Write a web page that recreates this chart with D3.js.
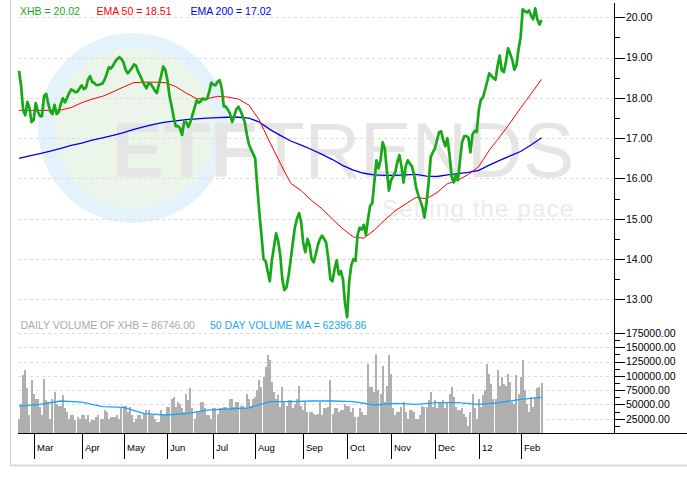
<!DOCTYPE html>
<html>
<head>
<meta charset="utf-8">
<script src="https://cdn.jsdelivr.net/npm/d3@7"></script>
<style>
    html, body { margin: 0; padding: 0; background: #fff; }
    svg { display: block; font-family: "Liberation Sans", Arial, sans-serif; }
</style>
</head>
<body>
<svg id="chart" width="687" height="477"></svg>
<script>
// XHB daily close, trading day 0 .. 250
var priceClose = [
    18.67, 18.30, 17.69, 17.57, 17.90, 17.75, 17.40, 17.45, 17.87, 17.66,
    17.55, 17.55, 18.05, 18.10, 17.85, 17.66, 17.60, 17.83, 17.60, 17.65,
    17.85, 17.99, 17.89, 18.00, 18.12, 18.21, 18.18, 18.14, 18.16, 18.24,
    18.31, 18.22, 18.25, 18.45, 18.54, 18.40, 18.37, 18.32, 18.32, 18.34,
    18.36, 18.46, 18.60, 18.76, 18.73, 18.80, 18.90, 18.96, 19.01, 18.97,
    18.88, 18.70, 18.61, 18.67, 18.74, 18.83, 18.80, 18.65, 18.55, 18.43,
    18.32, 18.24, 18.36, 18.35, 18.27, 18.18, 18.12, 18.35, 18.55, 18.78,
    18.70, 18.45, 18.05, 17.80, 17.52, 17.30, 17.30, 17.25, 17.08, 17.40,
    17.40, 17.28, 17.40, 17.58, 17.75, 17.94, 17.88, 17.92, 17.99, 17.96,
    17.98, 18.15, 18.38, 18.33, 18.31, 18.40, 18.44, 18.24, 17.79, 17.78,
    17.70, 17.60, 17.40, 17.55, 17.72, 17.78, 17.68, 17.55, 17.40, 17.10,
    16.85, 16.72, 16.62, 16.50, 15.80, 15.15, 14.60, 14.00, 13.95, 13.70,
    13.45, 13.97, 14.30, 14.64, 14.45, 14.10, 13.50, 13.23, 13.30, 13.60,
    13.98, 14.40, 14.78, 15.00, 15.14, 14.92, 14.40, 14.17, 14.50, 14.35,
    14.00, 13.92, 14.12, 14.35, 14.50, 14.58, 14.50, 14.40, 14.00, 13.50,
    13.45, 13.75, 13.97, 13.62, 13.70, 13.50, 12.90, 12.56, 13.45, 13.85,
    14.00, 13.95, 14.60, 14.78, 14.73, 14.85, 14.60, 15.00, 15.32, 15.38,
    15.90, 16.45, 16.25, 16.45, 16.90, 16.75, 16.20, 15.70, 15.96, 16.05,
    16.15, 16.40, 16.58, 16.30, 15.90, 16.30, 16.45, 16.37, 16.30, 16.10,
    15.78, 15.60, 15.45, 15.29, 15.03, 15.40, 15.90, 16.53, 16.65, 16.75,
    16.95, 17.15, 17.17, 16.95, 16.80, 17.00, 16.58, 16.05, 15.90, 16.10,
    15.96, 16.45, 16.90, 17.05, 17.05, 17.02, 16.65, 17.10, 17.18, 17.15,
    17.70, 17.96, 18.01, 18.20, 18.40, 18.61, 18.55, 18.49, 18.45, 18.80,
    19.05, 18.68, 18.64, 18.90, 19.23, 19.10, 18.95, 18.70, 18.81, 19.20,
    19.50, 20.20, 20.15, 20.12, 20.17, 20.05, 19.95, 20.22, 19.95, 19.82,
    19.93
]
// moving averages, one value every 5 trading days
var ema50 = [
    17.69, 17.69, 17.69, 17.69, 17.70, 17.76, 17.88, 17.97, 18.04, 18.15,
    18.27, 18.38, 18.39, 18.39, 18.38, 18.28, 18.12, 17.98, 17.98, 18.04,
    18.02, 17.97, 17.82, 17.45, 16.90, 16.38, 15.88, 15.70, 15.45, 15.25,
    14.99, 14.75, 14.55, 14.52, 14.72, 14.97, 15.20, 15.37, 15.53, 15.50,
    15.65, 15.87, 15.96, 16.10, 16.30, 16.70, 17.03, 17.38, 17.75, 18.10,
    18.46
]
var ema200 = [
    16.50, 16.56, 16.62, 16.68, 16.75, 16.82, 16.88, 16.95, 17.01, 17.07,
    17.14, 17.22, 17.29, 17.35, 17.40, 17.43, 17.46, 17.48, 17.50, 17.51,
    17.52, 17.52, 17.50, 17.40, 17.22, 17.07, 16.93, 16.83, 16.72, 16.60,
    16.47, 16.32, 16.21, 16.13, 16.09, 16.08, 16.08, 16.09, 16.10, 16.06,
    16.05, 16.09, 16.12, 16.15, 16.20, 16.33, 16.45, 16.56, 16.67, 16.83,
    17.01
]
// daily volume, thousands of shares
var volumeK = [
    25, 51, 101, 110, 78, 31, 92, 69, 60, 60,
    45, 31, 95, 57, 54, 25, 60, 72, 51, 48,
    48, 66, 43, 37, 25, 31, 31, 22, 28, 25,
    31, 31, 25, 31, 19, 22, 22, 28, 31, 25,
    25, 40, 37, 25, 28, 28, 28, 31, 25, 43,
    48, 48, 37, 45, 31, 19, 25, 31, 31, 25,
    34, 40, 40, 31, 31, 25, 19, 19, 40, 31,
    31, 45, 45, 60, 63, 45, 54, 51, 43, 37,
    69, 57, 78, 43, 25, 37, 37, 54, 54, 43,
    31, 31, 25, 43, 43, 34, 43, 43, 45, 45,
    40, 60, 60, 45, 54, 54, 48, 48, 43, 69,
    60, 48, 60, 63, 75, 92, 80, 98, 115, 136,
    127, 89, 72, 60, 66, 45, 80, 54, 48, 57,
    57, 43, 51, 60, 83, 48, 40, 54, 37, 37,
    37, 34, 31, 34, 54, 31, 43, 43, 45, 92,
    34, 43, 43, 37, 40, 40, 51, 48, 48, 37,
    43, 28, 28, 43, 37, 31, 31, 121, 80, 80,
    72, 139, 75, 69, 118, 54, 83, 136, 104, 43,
    31, 37, 37, 45, 54, 37, 25, 40, 40, 37,
    25, 25, 31, 48, 45, 45, 57, 72, 45, 57,
    43, 54, 54, 57, 43, 54, 69, 80, 63, 45,
    40, 40, 43, 34, 28, 13, 37, 69, 43, 25,
    60, 45, 66, 75, 121, 104, 86, 60, 60, 110,
    83, 98, 86, 83, 104, 89, 54, 51, 101, 69,
    98, 127, 75, 51, 37, 63, 45, 63, 78, 80, 87
]
// 50 day volume MA, thousands, every 10 trading days
var volMaK = [
    47, 50, 56, 54, 46, 45, 34, 31.5, 34, 40,
    42, 44, 55, 55, 56, 56, 55, 49, 52, 50,
    53, 53, 50, 53, 59, 62.4
]
var monthStart = [7, 30, 50, 71, 93, 113, 136, 157, 178, 199, 220, 240]
var monthLabels = ["Mar", "Apr", "May", "Jun", "Jul", "Aug", "Sep", "Oct", "Nov", "Dec", "12", "Feb"]
var priceTicks = [13, 14, 15, 16, 17, 18, 19, 20]
var volumeTicks = [25000, 50000, 75000, 100000, 125000, 150000, 175000]
var priceLegend = ["XHB = 20.02", "EMA 50 = 18.51", "EMA 200 = 17.02"]
var volumeLegend = ["DAILY VOLUME OF XHB = 86746.00", "50 DAY VOLUME MA = 62396.86"]

var svg = d3.select("#chart")
var axisX = 614, axisY = 433, plotLeft = 18

var x = d3.scaleLinear().domain([0, 250]).range([19, 541.5])
var yP = d3.scaleLinear().domain([13, 20]).range([299.4, 17.3])
var yV = d3.scaleLinear().domain([0, 175000]).range([axisY, 333])

// watermark
var wm = svg.append("g")
wm.append("circle").attr("cx", 133).attr("cy", 128).attr("r", 95).attr("fill", "#e4f2fb")
wm.append("circle").attr("cx", 134).attr("cy", 128).attr("r", 80).attr("fill", "#ebf5e9")
var wt = wm.append("text").attr("x", 112).attr("y", 177)
    .attr("font-size", 77).attr("fill", "#e5e5e5")
wt.append("tspan").attr("font-weight", "bold").text("ETF")
wt.append("tspan").text("TRENDS")
wm.append("text").attr("x", 382).attr("y", 217).attr("font-size", 24)
    .attr("fill", "#ebebeb").attr("textLength", 191).text("Setting the pace")

// frame
svg.append("line").attr("x1", 10.5).attr("x2", 10.5).attr("y1", 0).attr("y2", 466)
    .attr("stroke", "#d4d4d4")
svg.append("line").attr("x1", 10).attr("x2", 687).attr("y1", 465.5).attr("y2", 465.5)
    .attr("stroke", "#dcdcdc").attr("stroke-width", 2)

// grid
var grid = svg.append("g").attr("stroke", "#dcdcdc").attr("stroke-dasharray", "3,3")
grid.selectAll(".gp").data(priceTicks).enter().append("line")
    .attr("x1", plotLeft).attr("x2", axisX)
    .attr("y1", function (d) { return Math.round(yP(d)) + 0.5 })
    .attr("y2", function (d) { return Math.round(yP(d)) + 0.5 })
grid.selectAll(".gv").data(volumeTicks).enter().append("line")
    .attr("x1", plotLeft).attr("x2", axisX)
    .attr("y1", function (d) { return Math.round(yV(d)) + 0.5 })
    .attr("y2", function (d) { return Math.round(yV(d)) + 0.5 })

// volume bars
svg.append("g").selectAll("rect").data(volumeK).enter().append("rect")
    .attr("x", function (d, i) { return Math.round(x(i)) - 1 })
    .attr("width", 2)
    .attr("y", function (d) { return Math.round(yV(d * 1000)) })
    .attr("height", function (d) { return axisY - Math.round(yV(d * 1000)) })
    .attr("fill", "#b0b0b0")
    .attr("shape-rendering", "crispEdges")

svg.append("path").datum(volMaK)
    .attr("d", d3.line().x(function (d, i) { return x(i * 10) }).y(function (d) { return yV(d * 1000) }))
    .attr("fill", "none").attr("stroke", "#1aa6f2").attr("stroke-width", 1.3)

// price lines
var emaLine = d3.line().x(function (d, i) { return x(i * 5) }).y(function (d) { return yP(d) })
svg.append("path").datum(ema200).attr("d", emaLine)
    .attr("fill", "none").attr("stroke", "#0000ee").attr("stroke-width", 1.3)
svg.append("path").datum(ema50).attr("d", emaLine)
    .attr("fill", "none").attr("stroke", "#ff0000").attr("stroke-width", 1)
svg.append("path").datum(priceClose)
    .attr("d", d3.line().x(function (d, i) { return x(i) }).y(function (d) { return yP(d) }))
    .attr("fill", "none").attr("stroke", "#17a817").attr("stroke-width", 2.7)
    .attr("stroke-linejoin", "round")

// axes
var ax = svg.append("g").attr("stroke", "#000").attr("shape-rendering", "crispEdges")
ax.append("line").attr("x1", axisX + 0.5).attr("x2", axisX + 0.5).attr("y1", 3).attr("y2", axisY)
ax.append("line").attr("x1", plotLeft).attr("x2", 687).attr("y1", axisY + 0.5).attr("y2", axisY + 0.5)

var minorP = d3.range(13.5, 20, 1)
ax.selectAll(".mp").data(minorP).enter().append("line")
    .attr("x1", axisX).attr("x2", axisX + 6)
    .attr("y1", function (d) { return Math.round(yP(d)) + 0.5 })
    .attr("y2", function (d) { return Math.round(yP(d)) + 0.5 })
ax.selectAll(".tp").data(priceTicks).enter().append("line")
    .attr("x1", axisX).attr("x2", axisX + 11)
    .attr("y1", function (d) { return Math.round(yP(d)) + 0.5 })
    .attr("y2", function (d) { return Math.round(yP(d)) + 0.5 })
ax.selectAll(".tv").data(volumeTicks).enter().append("line")
    .attr("x1", axisX).attr("x2", axisX + 11)
    .attr("y1", function (d) { return Math.round(yV(d)) + 0.5 })
    .attr("y2", function (d) { return Math.round(yV(d)) + 0.5 })
ax.selectAll(".mv").data(volumeTicks).enter().append("line")
    .attr("x1", axisX).attr("x2", axisX + 6)
    .attr("y1", function (d) { return Math.round(yV(d - 12500)) + 0.5 })
    .attr("y2", function (d) { return Math.round(yV(d - 12500)) + 0.5 })
ax.selectAll(".tm").data(monthStart).enter().append("line")
    .attr("x1", function (d) { return Math.round(x(d)) + 0.5 })
    .attr("x2", function (d) { return Math.round(x(d)) + 0.5 })
    .attr("y1", axisY).attr("y2", 459)

var labels = svg.append("g").attr("font-size", "10.5px").attr("fill", "#000")
labels.selectAll(".lp").data(priceTicks).enter().append("text")
    .attr("x", axisX + 12).attr("y", function (d) { return yP(d) + 3.8 })
    .text(function (d) { return d.toFixed(2) })
labels.selectAll(".lv").data(volumeTicks).enter().append("text")
    .attr("x", axisX + 12).attr("y", function (d) { return yV(d) + 3.8 })
    .text(function (d) { return d.toFixed(2) })
svg.append("g").attr("font-size", "9.5px").selectAll("text").data(monthStart).enter().append("text")
    .attr("x", function (d) { return Math.round(x(d)) + 3 })
    .attr("y", 451)
    .text(function (d, i) { return monthLabels[i] })

// legends
var legColors = ["#17a817", "#ff0000", "#0000ee"]
var legX = [20, 96.5, 190.5]
svg.append("g").attr("font-size", "10.5px").selectAll("text").data(priceLegend).enter().append("text")
    .attr("x", function (d, i) { return legX[i] }).attr("y", 14.5)
    .attr("fill", function (d, i) { return legColors[i] })
    .text(function (d) { return d })
var volColors = ["#aaaaaa", "#1aa6f2"]
var volX = [20.5, 210]
svg.append("g").attr("font-size", "10.5px").selectAll("text").data(volumeLegend).enter().append("text")
    .attr("x", function (d, i) { return volX[i] }).attr("y", 329)
    .attr("fill", function (d, i) { return volColors[i] })
    .text(function (d) { return d })
</script>
</body>
</html>
